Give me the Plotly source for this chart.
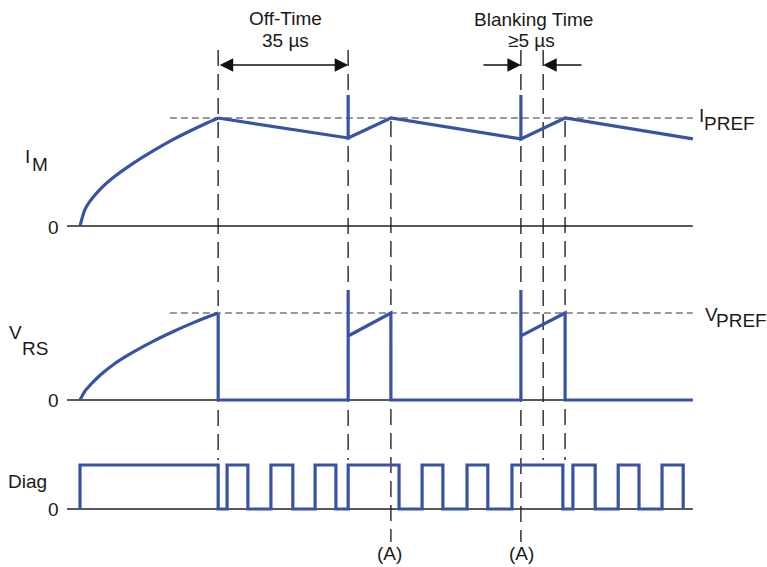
import plotly.graph_objects as go

# ---------------- data (time in µs, levels normalised to reference = 1) ----------------
# Motor current I_M
im_rise_t = [0.0, 1.3, 2.7, 5.4, 9.4, 14.3, 19.9, 25.0, 29.6, 33.6, 37.2]
im_rise_v = [0.0, 0.15, 0.23, 0.34, 0.46, 0.58, 0.70, 0.80, 0.88, 0.945, 1.0]
im_t = [37.2, 72.2, 72.2, 72.2, 83.7, 118.7, 118.7, 118.7, 130.6, 165.0]
im_v = [1.0, 0.815, 1.213, 0.815, 1.0, 0.806, 1.213, 0.806, 1.0, 0.806]

# Sense-resistor voltage V_RS
vrs_rise_t = [0.0, 1.3, 2.7, 5.4, 9.4, 14.3, 19.9, 25.0, 29.6, 33.6, 37.2]
vrs_rise_v = [0.0, 0.10, 0.17, 0.285, 0.42, 0.55, 0.68, 0.785, 0.872, 0.942, 1.0]
vrs_t = [37.2, 37.2, 72.2, 72.2, 72.2, 83.7, 83.7, 118.7, 118.7, 118.7, 130.6, 130.6, 165.0]
vrs_v = [1.0, 0.0, 0.0, 1.264, 0.736, 1.0, 0.0, 0.0, 1.264, 0.736, 1.0, 0.0, 0.0]

# Diagnostic output (step changes)
diag_t = [0.0, 0.0, 37.2, 39.6, 45.2, 51.4, 57.3, 63.3, 68.9, 72.2, 85.9, 92.1, 97.7,
          104.2, 109.8, 116.3, 130.0, 132.7, 138.7, 144.9, 150.5, 156.7, 162.4, 162.4]
diag_v = [0, 1, 0, 1, 0, 1, 0, 1, 0, 1, 0, 1, 0,
          1, 0, 1, 0, 1, 0, 1, 0, 1, 0, 0]

# event times
t_off_start = 37.2
t_off_end = 72.2
t_peak_a = 83.7
t_blank_start = 118.7
t_blank_end = 124.7
t_peak_b = 130.6
t_axis_start = -3.5
t_axis_end = 165.0
t_ref_start = 24.2

# ---------------- layout helpers ----------------
W, H = 767, 567
PX_PER_US = 130 / 35
X0_PX = 80
BLUE = "#3953a4"
INK = "#222222"
FONT = "Liberation Sans, Arial, sans-serif"


def t_px(px):
    return (px - X0_PX) / PX_PER_US


def py(p):
    return 1 - p / H


def px(p):
    return p / W


def yrange(zero_py, unit_px):
    return [-(H - zero_py) / unit_px, zero_py / unit_px]


fig = go.Figure()
fig.add_trace(go.Scatter(x=im_rise_t, y=im_rise_v, mode="lines", yaxis="y",
                         line=dict(color=BLUE, width=3.2, shape="spline", smoothing=0.8)))
fig.add_trace(go.Scatter(x=im_t, y=im_v, mode="lines", yaxis="y",
                         line=dict(color=BLUE, width=3.2)))
fig.add_trace(go.Scatter(x=vrs_rise_t, y=vrs_rise_v, mode="lines", yaxis="y2",
                         line=dict(color=BLUE, width=3.2, shape="spline", smoothing=0.8)))
fig.add_trace(go.Scatter(x=vrs_t, y=vrs_v, mode="lines", yaxis="y2",
                         line=dict(color=BLUE, width=3.2)))
fig.add_trace(go.Scatter(x=diag_t, y=diag_v, mode="lines", yaxis="y3",
                         line=dict(color=BLUE, width=3.2, shape="hv")))

shapes = []
# zero axes
for yr in ["y", "y2", "y3"]:
    shapes.append(dict(type="line", xref="x", yref=yr, x0=t_axis_start, x1=t_axis_end,
                       y0=0, y1=0, line=dict(color=INK, width=1.3), layer="below"))
# reference levels
for yr in ["y", "y2"]:
    shapes.append(dict(type="line", xref="x", yref=yr, x0=t_ref_start, x1=t_axis_end,
                       y0=1, y1=1, line=dict(color="#333333", width=1, dash="7px,4px"),
                       layer="below"))
# vertical dashed markers (time, top pixel, bottom pixel)
vlines = [(t_off_start, 50, 460), (t_off_end, 50, 460), (t_peak_a, 121, 542),
          (t_blank_start, 50, 542), (t_blank_end, 50, 460), (t_peak_b, 121, 460)]
for t, top, bot in vlines:
    shapes.append(dict(type="line", xref="x", yref="paper", x0=t, x1=t,
                       y0=py(top), y1=py(bot),
                       line=dict(color="#333333", width=1.5, dash="16px,8px"), layer="below"))

ann = []


def text(s, xp, yp, size=19, anchor="middle"):
    ann.append(dict(text=s, x=px(xp), y=py(yp), xref="paper", yref="paper",
                    showarrow=False, xanchor="center", yanchor=anchor,
                    font=dict(family=FONT, size=size, color="#1a1a1a")))


text("Off-Time", 285, 18)
text("35 µs", 285, 40)
text("Blanking Time", 533, 19)
text("≥5 µs", 531, 40)
text("I", 27, 157)
text("M", 40, 165)
text("0", 53, 227)
text("V", 15, 332)
text("RS", 35, 348)
text("0", 53, 400)
text("Diag", 27, 481)
text("0", 53, 509)
text("I", 701, 115)
text("PREF", 729, 123)
text("V", 711, 314)
text("PREF", 741, 320)
text("(A)", 389, 566, anchor="bottom")
text("(A)", 521, 566, anchor="bottom")

arrow_y = py(65)
arrow_common = dict(text="", showarrow=True, xref="x", yref="paper", axref="x", ayref="pixel",
                    ay=0, y=arrow_y, arrowhead=2, arrowsize=1.8, arrowwidth=1.5,
                    arrowcolor="#111111", standoff=0, startstandoff=0)
ann.append(dict(x=t_off_end, ax=t_off_start, arrowside="end+start", **arrow_common))
ann.append(dict(x=t_blank_start, ax=t_px(482), arrowside="end", **arrow_common))
ann.append(dict(x=t_blank_end, ax=t_px(583), arrowside="end", **arrow_common))

fig.update_layout(
    width=W, height=H, margin=dict(l=0, r=0, t=0, b=0),
    paper_bgcolor="white", plot_bgcolor="white", showlegend=False,
    xaxis=dict(range=[t_px(0), t_px(W)], visible=False, fixedrange=True),
    yaxis=dict(range=yrange(226, 108), visible=False, domain=[0, 1], fixedrange=True),
    yaxis2=dict(range=yrange(400, 87), visible=False, overlaying="y", fixedrange=True),
    yaxis3=dict(range=yrange(509, 44), visible=False, overlaying="y", fixedrange=True),
    shapes=shapes, annotations=ann,
)

fig.write_html("out.html", config={"displayModeBar": False, "staticPlot": True},
               post_script="document.body.style.margin='0';document.body.style.overflow='hidden';")
